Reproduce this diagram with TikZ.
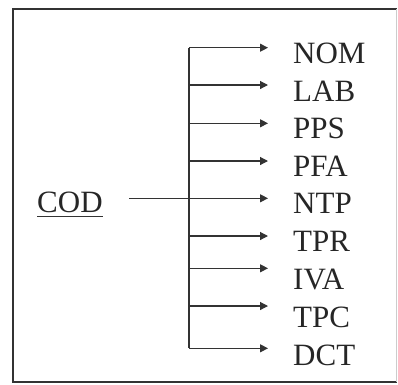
\documentclass[tikz,border=0pt]{standalone}
\usepackage{fontspec}
\setmainfont{Liberation Serif}
\usetikzlibrary{arrows.meta}
\begin{document}
\begin{tikzpicture}[x=1pt,y=-1pt,
  field/.style={anchor=base west,inner sep=0pt,font=\fontsize{31}{31}\selectfont,text=black!85},
  link/.style={draw=black!80,line width=1.2pt},
  flow/.style={link,-{Triangle[length=8pt,width=8pt]}},
  frame/.style={draw=black!80,line width=2pt}]
  \useasboundingbox (0,0) rectangle (398,384);
  % outer frame
  \draw[frame] (397,9) -- (13,9) -- (13,382) -- (397,382);
  \draw[draw=black!20,line width=0.8pt] (396.5,9) -- (396.5,382);
  % key attribute
  \node[field] (cod) at (37,212) {COD};
  \draw[link,line width=0.9pt] (cod.base west) ++(0,4) coordinate (ua) -- (cod.base east |- ua);
  % dependent attributes
  \foreach \name/\ay/\by [count=\i] in {NOM/47.7/63, LAB/85/101, PPS/123.3/138.5,
      PFA/161/176, NTP/198.3/213.5, TPR/236/251, IVA/268.3/289, TPC/306/327, DCT/348.3/365}{
    \node[field] (f\i) at (293,\by) {\name};
    \coordinate (t\i) at (189,\ay);
    \coordinate (e\i) at (268,\ay);
  }
  % trunk and branches
  \draw[link] (t1) -- (t9);
  \foreach \i in {1,...,9}{\draw[flow] (t\i) -- (e\i);}
  \coordinate (cs) at (129,198.3);
  \draw[link] (cs) -- (t5);
\end{tikzpicture}
\end{document}
